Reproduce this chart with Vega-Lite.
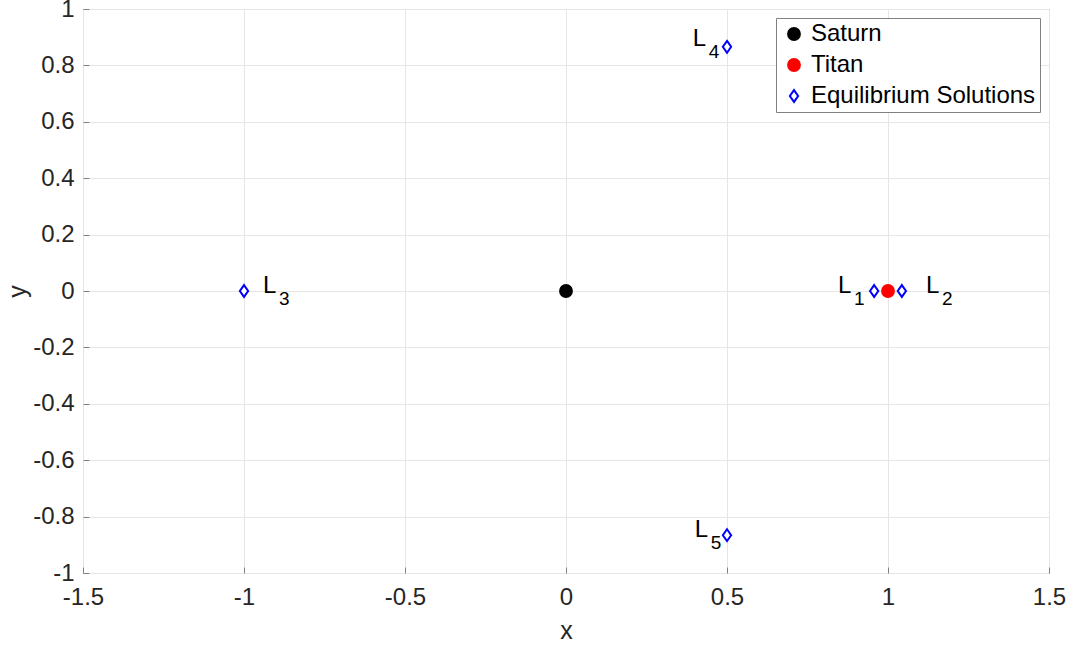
{
  "$schema": "https://vega.github.io/schema/vega-lite/v6.json",
  "autosize": {"type": "none"},
  "width": 966,
  "height": 564,
  "padding": {"left": 83, "top": 9, "right": 22, "bottom": 73},
  "background": "white",
  "config": {
    "font": "Liberation Sans",
    "view": {"stroke": "#808080", "strokeWidth": 1},
    "axis": {
      "domain": false,
      "grid": true,
      "gridColor": "#e6e6e6",
      "gridWidth": 1,
      "tickColor": "#808080",
      "tickSize": -6,
      "labelFont": "Liberation Sans",
      "labelFontSize": 24,
      "labelColor": "#262626",
      "titleFont": "Liberation Sans",
      "titleFontSize": 25,
      "titleFontWeight": "normal",
      "titleColor": "#262626"
    }
  },
  "datasets": {
    "bodies": [
      {"body": "Saturn", "x": 0, "y": 0},
      {"body": "Titan", "x": 1, "y": 0},
      {"body": "Equilibrium Solutions", "x": 0.957, "y": 0},
      {"body": "Equilibrium Solutions", "x": 1.043, "y": 0},
      {"body": "Equilibrium Solutions", "x": -1.0, "y": 0},
      {"body": "Equilibrium Solutions", "x": 0.5, "y": 0.866},
      {"body": "Equilibrium Solutions", "x": 0.5, "y": -0.866}
    ],
    "labels": [
      {"base": "L", "sub": "1", "lx": 0.845, "ly": 0},
      {"base": "L", "sub": "2", "lx": 1.118, "ly": 0},
      {"base": "L", "sub": "3", "lx": -0.941, "ly": 0},
      {"base": "L", "sub": "4", "lx": 0.394, "ly": 0.876},
      {"base": "L", "sub": "5", "lx": 0.4, "ly": -0.865}
    ]
  },
  "layer": [
    {
      "data": {"name": "bodies"},
      "mark": {"type": "point", "filled": true, "strokeWidth": 2, "opacity": 1},
      "encoding": {
        "x": {
          "field": "x", "type": "quantitative",
          "scale": {"domain": [-1.5, 1.5], "nice": false, "zero": false},
          "axis": {
            "values": [-1.5, -1, -0.5, 0, 0.5, 1, 1.5],
            "labelExpr": "(datum.value < 0 ? '-' : '') + format(abs(datum.value), '~g')",
            "labelPadding": 18, "title": "x", "titlePadding": 9, "labelFlush": false
          }
        },
        "y": {
          "field": "y", "type": "quantitative",
          "scale": {"domain": [-1, 1], "nice": false, "zero": false},
          "axis": {
            "values": [-1, -0.8, -0.6, -0.4, -0.2, 0, 0.2, 0.4, 0.6, 0.8, 1],
            "labelExpr": "(datum.value < 0 ? '-' : '') + format(abs(datum.value), '~g')",
            "labelPadding": 15, "title": "y", "titlePadding": 2, "labelFlush": false
          }
        },
        "fill": {
          "field": "body", "type": "nominal",
          "scale": {"domain": ["Saturn", "Titan", "Equilibrium Solutions"], "range": ["#000000", "#ff0000", "#ffffff"]},
          "legend": {
            "title": null,
            "orient": "top-right",
            "offset": 9,
            "fillColor": "white",
            "strokeColor": "#808080",
            "padding": 4,
            "rowPadding": 7,
            "symbolOffset": 2,
            "labelFont": "Liberation Sans",
            "labelFontSize": 24,
            "labelColor": "#000000",
            "labelOffset": 5,
            "symbolStrokeWidth": 2,
            "labelLimit": 400
          }
        },
        "stroke": {
          "field": "body", "type": "nominal",
          "scale": {"domain": ["Saturn", "Titan", "Equilibrium Solutions"], "range": ["#000000", "#ff0000", "#0000ff"]}
        },
        "shape": {
          "field": "body", "type": "nominal",
          "scale": {"domain": ["Saturn", "Titan", "Equilibrium Solutions"], "range": ["circle", "circle", "M0,-1L0.7,0L0,1L-0.7,0Z"]}
        },
        "size": {
          "field": "body", "type": "nominal",
          "scale": {"domain": ["Saturn", "Titan", "Equilibrium Solutions"], "range": [140, 140, 80]}
        }
      }
    },
    {
      "data": {"name": "labels"},
      "mark": {"type": "text", "align": "left", "baseline": "alphabetic", "dy": 2, "fontSize": 24, "font": "Liberation Sans", "color": "#000000"},
      "encoding": {
        "x": {"field": "lx", "type": "quantitative"},
        "y": {"field": "ly", "type": "quantitative"},
        "text": {"field": "base"}
      }
    },
    {
      "data": {"name": "labels"},
      "mark": {"type": "text", "align": "left", "baseline": "alphabetic", "dx": 16, "dy": 14, "fontSize": 19, "font": "Liberation Sans", "color": "#000000"},
      "encoding": {
        "x": {"field": "lx", "type": "quantitative"},
        "y": {"field": "ly", "type": "quantitative"},
        "text": {"field": "sub"}
      }
    }
  ]
}
